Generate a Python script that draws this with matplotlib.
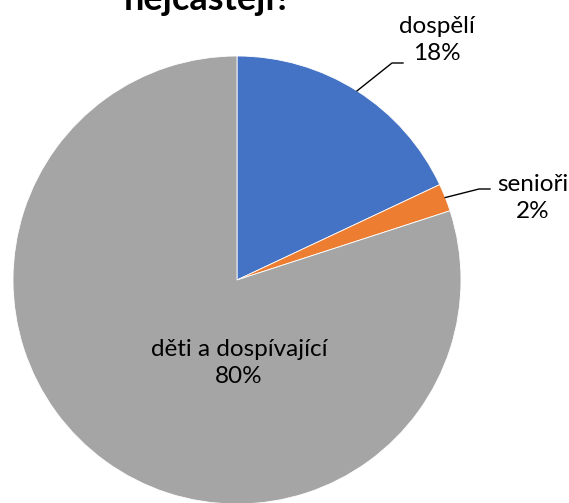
import numpy as np
import matplotlib.pyplot as plt

categories = ["dospělí", "senioři", "děti a dospívající"]
shares = [18, 2, 80]
colors = ["#4472C4", "#ED7D31", "#A5A5A5"]
title = "nejčastěji?"

plt.rcParams['font.family'] = ['Lato', 'DejaVu Sans']

fig = plt.figure(figsize=(5.69, 5.03), dpi=100)
ax = fig.add_axes([0, 0, 1, 1])

cx, cy, r = 237, 223, 224
wedges, _ = ax.pie(shares, colors=colors, startangle=90, counterclock=False,
                   radius=r, center=(cx, cy), frame=True,
                   wedgeprops=dict(edgecolor="white", linewidth=0.6))
ax.set_xlim(0, 569)
ax.set_ylim(0, 503)
ax.axis("off")

fs = 17.5
# outside labels with leader lines
label_pos = {0: (437, 463), 1: (533, 305)}
line_end = {0: (403, 440), 1: (490, 314)}
for i, (lx, ly) in label_pos.items():
    w = wedges[i]
    ang = np.deg2rad((w.theta1 + w.theta2) / 2)
    ex, ey = cx + r * np.cos(ang), cy + r * np.sin(ang)
    jx, jy = line_end[i]
    ax.plot([ex, jx - 11, jx], [ey, jy, jy], color="black", lw=1)
    ax.text(lx, ly, f"{categories[i]}\n{shares[i]}%", ha="center", va="center",
            fontsize=fs, linespacing=1.3)

ax.text(239, 140, f"{categories[2]}\n{shares[2]}%", ha="center", va="center",
        fontsize=fs, linespacing=1.3)

ax.text(208, 493, title, ha="center", va="baseline", fontsize=26,
        fontweight="bold")

fig.savefig("out.png", dpi=100)
